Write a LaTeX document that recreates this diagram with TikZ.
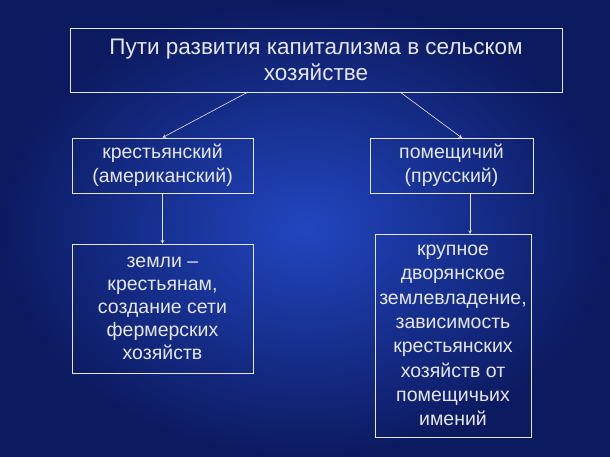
\documentclass[tikz,border=0pt]{standalone}
\usepackage{fontspec}
\setmainfont{Liberation Sans}
\definecolor{bgin}{HTML}{2246C0}
\definecolor{bgout}{HTML}{0C1A60}
\definecolor{txt}{HTML}{E4E6F0}
\begin{document}
\begin{tikzpicture}[x=1pt,y=-1pt,
  box/.style={draw=txt,line width=0.8pt,text=txt,align=center,inner sep=0pt},
  arr/.style={draw=txt,line width=0.6pt,-stealth}]
\shade[inner color=bgin,outer color=bgout] (0,0) rectangle (610,457);
\useasboundingbox (0,0) rectangle (610,457);
\node[box,minimum width=492pt,minimum height=64pt,font=\fontsize{22.5}{26}\selectfont] (title) at (316,60)
  {Пути развития капитализма в сельском\\хозяйстве};
\node[box,minimum width=181pt,minimum height=55pt,font=\fontsize{19.5}{24}\selectfont] (l1) at (162.5,165.5)
  {крестьянский\\(американский)};
\node[box,minimum width=163pt,minimum height=55pt,font=\fontsize{19.5}{24}\selectfont] (r1) at (451.5,165.5)
  {помещичий\\(прусский)};
\node[box,minimum width=181pt,minimum height=129pt,font=\fontsize{19.5}{23}\selectfont] (l2) at (162.5,308.5)
  {земли --\\крестьянам,\\создание сети\\фермерских\\хозяйств};
\node[box,minimum width=156pt,minimum height=203pt,font=\fontsize{19.5}{24.3}\selectfont] (r2) at (453,335.5)
  {крупное\\дворянское\\землевладение,\\зависимость\\крестьянских\\хозяйств от\\помещичьих\\имений};
\draw[arr] (248,92) -- (l1.north);
\draw[arr] (400,92) -- (462,138);
\draw[arr] (l1.south) -- (l2.north);
\draw[arr] (470,193) -- (470,234);
\end{tikzpicture}
\end{document}
